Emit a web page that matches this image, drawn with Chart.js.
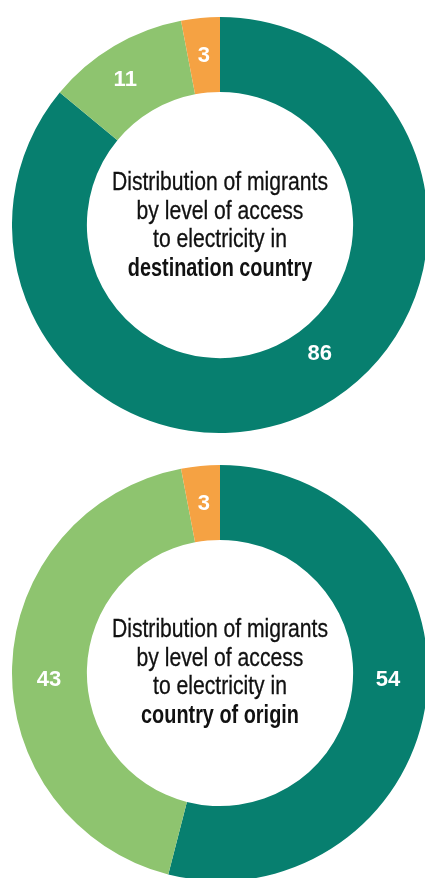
<!DOCTYPE html>
<html>
<head>
<meta charset="utf-8">
<script src="https://cdn.jsdelivr.net/npm/chart.js@4"></script>
<style>
  html, body { margin: 0; padding: 0; background: #fff; }
  body { width: 425px; height: 878px; overflow: hidden; position: relative; }
  .ring { position: absolute; left: 12px; width: 416px; height: 416px; }
  .caption {
    position: absolute; left: 0; width: 440px; text-align: center;
    font-family: "Liberation Sans", Arial, sans-serif;
    font-size: 25px; line-height: 28.7px; color: #111;
    transform: translateY(-50%);
  }
  .caption span { display: block; white-space: nowrap; transform: scaleX(0.845); -webkit-text-stroke: 0.3px #111; }
  .caption span.key { font-weight: bold; transform: scaleX(0.795); -webkit-text-stroke: 0; }
</style>
</head>
<body>
<div class="ring" style="top:17px"><canvas id="destChart"></canvas></div>
<div class="ring" style="top:465px"><canvas id="originChart"></canvas></div>
<div class="caption" style="top:224px">
  <span>Distribution of migrants</span><span>by level of access</span><span>to electricity in</span><span class="key">destination country</span>
</div>
<div class="caption" style="top:671px">
  <span>Distribution of migrants</span><span>by level of access</span><span>to electricity in</span><span class="key">country of origin</span>
</div>
<script>
const levels = ['Full access', 'Partial access', 'No access'];
const colors = ['#077f6f', '#8ec46f', '#f5a243'];
const destination = [86, 11, 3];
const origin = [54, 43, 3];

// writes each slice's value inside the ring
const sliceLabels = {
  id: 'sliceLabels',
  afterDatasetsDraw(chart, args, opts) {
    const ctx = chart.ctx;
    const meta = chart.getDatasetMeta(0);
    const values = chart.data.datasets[0].data;
    ctx.save();
    ctx.fillStyle = '#fff';
    ctx.font = 'bold 22px "Liberation Sans", Arial, sans-serif';
    ctx.textAlign = 'center';
    ctx.textBaseline = 'middle';
    meta.data.forEach((arc, i) => {
      const p = arc.getProps(['x', 'y', 'startAngle', 'endAngle', 'innerRadius', 'outerRadius']);
      let angle = (p.startAngle + p.endAngle) / 2;
      let r = (p.innerRadius + p.outerRadius) / 2;
      const fix = (opts.place || {})[i];
      if (fix) {
        angle = fix.deg * Math.PI / 180 - Math.PI / 2;
        r = fix.r;
      }
      ctx.fillText(values[i], p.x + r * Math.cos(angle), p.y + r * Math.sin(angle) + 1);
    });
    ctx.restore();
  }
};

function ring(id, values, place) {
  return new Chart(document.getElementById(id), {
    type: 'doughnut',
    data: {
      labels: levels,
      datasets: [{
        data: values,
        backgroundColor: colors,
        borderWidth: 0
      }]
    },
    options: {
      responsive: true,
      maintainAspectRatio: false,
      animation: false,
      cutout: '64%',
      layout: { padding: 0 },
      plugins: {
        legend: { display: false },
        tooltip: { enabled: false },
        sliceLabels: { place: place }
      }
    },
    plugins: [sliceLabels]
  });
}

ring('destChart', destination, { 0: { deg: 142, r: 162 }, 1: { deg: 327, r: 174 } });
ring('originChart', origin, { 0: { deg: 92, r: 168 }, 1: { deg: 268, r: 171 } });
</script>
</body>
</html>
